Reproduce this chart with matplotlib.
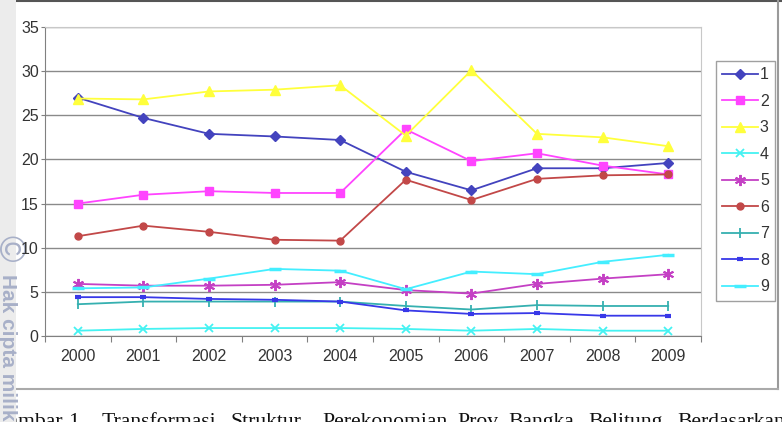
import matplotlib
matplotlib.use("Agg")
import matplotlib.pyplot as plt
from matplotlib.patches import Rectangle
from matplotlib.lines import Line2D

W, H = 782, 422
years = ["2000", "2001", "2002", "2003", "2004", "2005", "2006", "2007", "2008", "2009"]
labels = ["1", "2", "3", "4", "5", "6", "7", "8", "9"]
s1 = [27.0, 24.7, 22.9, 22.6, 22.2, 18.6, 16.5, 19.0, 19.0, 19.6]
s2 = [15.0, 16.0, 16.4, 16.2, 16.2, 23.4, 19.8, 20.7, 19.3, 18.3]
s3 = [26.9, 26.8, 27.7, 27.9, 28.4, 22.7, 30.1, 22.9, 22.5, 21.5]
s4 = [0.6, 0.8, 0.9, 0.9, 0.9, 0.8, 0.6, 0.8, 0.6, 0.6]
s5 = [5.9, 5.7, 5.7, 5.8, 6.1, 5.2, 4.8, 5.9, 6.5, 7.0]
s6 = [11.3, 12.5, 11.8, 10.9, 10.8, 17.7, 15.4, 17.8, 18.2, 18.3]
s7 = [3.6, 3.9, 3.9, 3.9, 3.9, 3.4, 3.0, 3.5, 3.4, 3.4]
s8 = [4.4, 4.4, 4.2, 4.1, 3.9, 2.9, 2.5, 2.6, 2.3, 2.3]
s9 = [5.4, 5.5, 6.5, 7.6, 7.4, 5.3, 7.3, 7.0, 8.4, 9.2]
series = [s1, s2, s3, s4, s5, s6, s7, s8, s9]
caption_words = ["Gambar", "1.", "Transformasi", "Struktur", "Perekonomian",
                 "Prov.", "Bangka", "Belitung", "Berdasarkan"]

styles = [
    dict(color="#4343BE", marker="D", ms=5.5),
    dict(color="#FF44FF", marker="s", ms=5.5),
    dict(color="#FFFF3C", marker="^", ms=7),
    dict(color="#44F2F2", marker="x", ms=6, mew=1.3),
    dict(color="#C440C4", marker=(6, 2, 0), ms=8, mew=1.4),
    dict(color="#C24848", marker="o", ms=5),
    dict(color="#35B0B0", marker="|", ms=7, mew=1.3),
    dict(color="#3838E8", marker="_", ms=5, mew=3),
    dict(color="#44EEFF", marker="_", ms=8, mew=2.5),
]

plt.rcParams["font.family"] = ["Liberation Sans", "DejaVu Sans"]
fig = plt.figure(figsize=(W / 100, H / 100), dpi=100)
fig.patch.set_facecolor("white")

# background / frame layer in pixel coordinates
bg = fig.add_axes([0, 0, 1, 1], zorder=0)
bg.set_xlim(0, W)
bg.set_ylim(H, 0)
bg.axis("off")
bg.add_line(Line2D([16, W], [1, 1], color="#555555", lw=1.5))
bg.add_line(Line2D([778, 778], [0, 389], color="#9a9a9a", lw=1.5))
bg.add_line(Line2D([16, 778], [389, 389], color="#aaaaaa", lw=1.5))
caption_x = [-7, 68, 102, 230, 322, 457, 508, 588, 677]
for wd, xx in zip(caption_words, caption_x):
    bg.text(xx, 427, wd, family="Liberation Serif", fontsize=15.6,
            color="#111111", ha="left", va="baseline", zorder=1)
bg.add_patch(Rectangle((0, 0), 16, H, color="#ececec", zorder=2, lw=0))
bg.text(8, 248, "\u00a9", rotation=-90, fontsize=26, color="#a8b0c8",
        ha="center", va="center", zorder=3)
bg.text(7, 274, "Hak cipta milik", rotation=-90, fontsize=15, color="#a8b0c8",
        fontweight="bold", ha="center", va="top", zorder=3)

# main plot area
left, right, top, bottom = 45, 701, 27, 336
ax = fig.add_axes([left / W, 1 - bottom / H, (right - left) / W, (bottom - top) / H], zorder=1)
ax.set_facecolor("white")
x = list(range(len(years)))
for vals, lab, st in zip(series, labels, styles):
    ax.plot(x, vals, lw=1.3, label=lab, clip_on=False, **st)

ax.set_xlim(-0.5, len(years) - 0.5)
ax.set_ylim(0, 35)
ax.set_yticks(range(0, 36, 5))
ax.set_xticks([i - 0.5 for i in range(len(years) + 1)])
ax.set_xticklabels([])
ax.set_xticks(x, minor=True)
ax.set_xticklabels(years, minor=True)
ax.tick_params(axis="x", which="major", direction="out", length=4, color="#808080")
ax.tick_params(axis="x", which="minor", length=0, pad=9.5, labelsize=11.5, labelcolor="#333333")
ax.tick_params(axis="y", direction="out", length=3, color="#808080", pad=1.5,
               labelsize=11.5, labelcolor="#333333")
ax.grid(axis="y", color="#8a8a8a", lw=1)
ax.set_axisbelow(True)
for sp in ["left", "bottom"]:
    ax.spines[sp].set_color("#808080")
for sp in ["top", "right"]:
    ax.spines[sp].set_color("#c8c8c8")

leg = fig.legend(loc="upper left", bbox_to_anchor=(716 / W, 1 - 61 / H),
                 bbox_transform=fig.transFigure, borderaxespad=0, fontsize=11.5,
                 frameon=True, fancybox=False, edgecolor="#888888",
                 handlelength=2.2, handletextpad=0.15, labelspacing=0.72,
                 borderpad=0.4)
leg.get_frame().set_linewidth(1)
for t in leg.get_texts():
    t.set_color("#333333")

fig.savefig("out.png", dpi=100)
